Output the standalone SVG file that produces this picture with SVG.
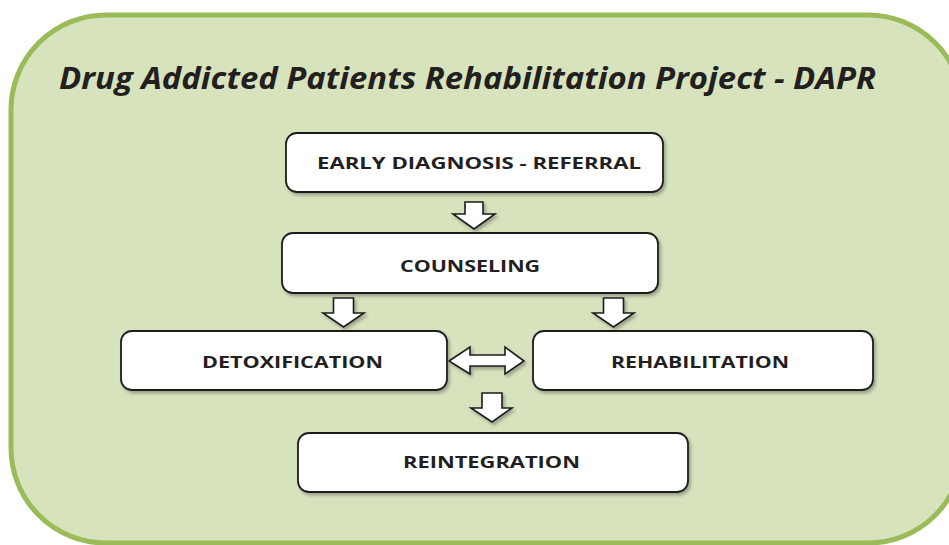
<svg xmlns="http://www.w3.org/2000/svg" width="949" height="545" viewBox="0 0 949 545">
<defs>
<filter id="sh" x="-5%" y="-10%" width="115%" height="130%">
<feDropShadow dx="2" dy="2.5" stdDeviation="1.5" flood-color="#555" flood-opacity="0.45"/>
</filter>
<style>
.panel{fill:#d6e3bc;stroke:#9bbb59;stroke-width:5}
.box{fill:#ffffff;stroke:#1c1c1c;stroke-width:1.8;filter:url(#sh)}
.arr{fill:#ffffff;stroke:#1c1c1c;stroke-width:1.6;stroke-linejoin:miter;filter:url(#sh)}
.lbl{font-family:"Open Sans","Liberation Sans",sans-serif;font-weight:bold;font-size:16px;fill:#231f20;text-anchor:middle}
.title{font-family:"Open Sans","Liberation Sans",sans-serif;font-weight:bold;font-style:italic;font-size:31px;fill:#231f20}
</style>
</defs>
<rect class="panel" x="11" y="15" width="952" height="528" rx="95" ry="95"/>
<text class="title" x="59" y="89" textLength="817" lengthAdjust="spacingAndGlyphs">Drug Addicted Patients Rehabilitation Project - DAPR</text>
<g id="connectors">
<path class="arr" d="M465,202 L483,202 L483,214 L495,214 L474,229 L453,214 L465,214 Z"/>
<path class="arr" d="M333.5,298 L353.5,298 L353.5,313 L364,313 L343.5,327 L323,313 L333.5,313 Z"/>
<path class="arr" d="M603.5,298 L623.5,298 L623.5,313 L634,313 L613.5,327 L593,313 L603.5,313 Z"/>
<path class="arr" d="M449,361 L470,347 L470,355 L505,355 L505,347 L524,361 L505,374 L505,366 L470,366 L470,374 Z"/>
<path class="arr" d="M482,393 L502,393 L502,408 L512,408 L492,422 L471,408 L482,408 Z"/>
</g>
<g id="early">
<rect class="box" x="286" y="133" width="377" height="59" rx="11"/>
<text class="lbl" x="479" y="169" textLength="324" lengthAdjust="spacingAndGlyphs">EARLY DIAGNOSIS - REFERRAL</text>
</g>
<g id="counseling">
<rect class="box" x="282" y="233" width="376" height="60" rx="11"/>
<text class="lbl" x="470" y="272" textLength="140" lengthAdjust="spacingAndGlyphs">COUNSELING</text>
</g>
<g id="detox">
<rect class="box" x="121" y="331" width="326" height="59" rx="11"/>
<text class="lbl" x="292.5" y="368" textLength="181" lengthAdjust="spacingAndGlyphs">DETOXIFICATION</text>
</g>
<g id="rehab">
<rect class="box" x="533" y="331" width="340" height="59" rx="11"/>
<text class="lbl" x="700" y="368" textLength="178" lengthAdjust="spacingAndGlyphs">REHABILITATION</text>
</g>
<g id="reintegration">
<rect class="box" x="298" y="433" width="390" height="59" rx="11"/>
<text class="lbl" x="491.5" y="468" textLength="177" lengthAdjust="spacingAndGlyphs">REINTEGRATION</text>
</g>
</svg>
